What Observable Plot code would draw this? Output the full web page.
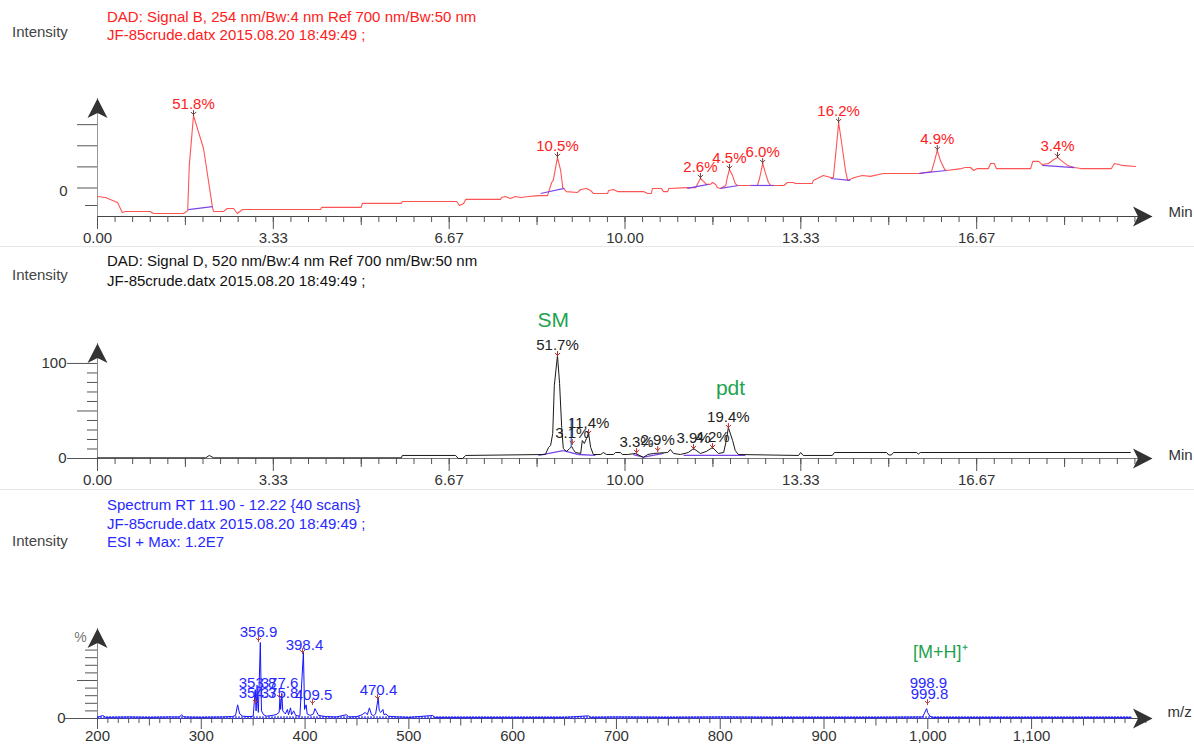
<!DOCTYPE html>
<html>
<head>
<meta charset="utf-8">
<script src="https://cdn.jsdelivr.net/npm/d3@7"></script>
<script src="https://cdn.jsdelivr.net/npm/@observablehq/plot@0.6"></script>
<style>
  html, body { margin: 0; padding: 0; background: #fff; }
  #root { position: relative; width: 1194px; height: 744px; overflow: hidden; background: #fff;
          font-family: 'Liberation Sans', Arial, Helvetica, sans-serif; }
  .hdr { position: absolute; font-size: 15px; white-space: pre; }
  .sep { position: absolute; left: 0; width: 1194px; height: 1px; background: #e8e8e8; }
  .panel { position: absolute; left: 0; }
</style>
</head>
<body>
<div id="root"></div>
<script>
// ---------------- DATA ----------------
// Panel 1: DAD Signal B (254 nm), retention time (min) vs intensity
const topTime = [0.00,0.15,0.38,0.47,0.53,1.00,1.06,1.63,1.71,1.74,1.82,2.01,2.18,2.20,2.39,2.46,2.58,2.65,2.75,4.23,4.25,5.00,5.02,5.76,5.78,6.81,6.86,6.94,6.98,7.64,7.66,7.73,7.83,7.92,8.02,8.17,8.36,8.53,8.61,8.64,8.72,8.78,8.82,8.85,8.89,9.10,9.16,9.27,9.35,9.40,9.67,9.69,9.78,9.86,10.35,10.43,10.50,10.52,10.69,10.73,10.81,10.83,11.18,11.34,11.39,11.43,11.49,11.54,11.62,11.66,11.72,11.75,11.81,11.91,11.94,11.98,12.04,12.09,12.13,12.51,12.55,12.61,12.66,12.72,12.76,13.01,13.08,13.19,13.23,13.55,13.57,13.76,13.90,13.95,14.01,14.05,14.10,14.18,14.22,14.35,14.50,14.65,14.90,15.58,15.81,15.87,15.92,15.98,16.06,16.09,16.38,16.45,16.55,16.61,16.68,16.89,16.93,17.00,17.04,17.69,17.73,17.84,17.91,18.03,18.10,18.20,18.29,18.39,18.52,18.64,19.22,19.28,19.36,19.43,19.68];
const topSignal = [-4.0,-4.5,-6.9,-11.6,-11.1,-11.1,-12.1,-12.1,-10.7,10.7,34.3,18.7,-9.2,-11.1,-11.1,-9.7,-9.7,-12.1,-10.2,-10.2,-9.2,-9.2,-7.3,-7.3,-6.4,-6.4,-8.3,-7.3,-5.4,-5.4,-4.5,-4.0,-5.0,-4.0,-4.5,-4.0,-3.6,-3.6,2.6,3.6,14.5,8.3,0.2,-0.7,-1.7,-2.1,-0.7,-0.2,-1.2,-2.6,-2.6,-1.2,-0.7,-1.7,-1.7,-2.6,-2.6,-0.2,-0.2,-1.7,-1.7,-0.2,0.2,0.2,2.6,4.5,3.1,1.7,1.7,2.6,1.7,0.2,-0.2,1.2,5.0,8.8,5.9,2.1,1.2,1.2,4.5,11.6,7.3,2.6,1.2,1.2,2.6,2.6,2.1,2.1,3.6,5.9,5.0,5.0,20.1,31.0,22.5,8.3,3.6,5.0,5.9,5.5,6.9,6.9,7.8,13.0,17.8,13.0,8.8,8.3,9.2,9.7,9.7,8.3,9.2,9.2,11.6,11.6,9.2,9.2,12.6,12.6,11.1,11.6,13.0,14.5,12.6,10.7,9.7,9.2,9.2,11.6,11.1,10.7,10.2];
const topBaseT1 = [1.72, 8.40, 11.18, 11.81, 12.38, 13.90, 15.58, 17.91];
const topBaseV1 = [-10.2, -2.6, -0.2, -0.2, 1.2, 4.5, 6.9, 10.7];
const topBaseT2 = [2.18, 8.85, 11.58, 12.15, 12.82, 14.27, 16.09, 18.52];
const topBaseV2 = [-8.8, -0.2, 1.7, 1.2, 1.2, 3.6, 8.3, 9.7];
const topPeakTime = [1.82, 8.72, 11.43, 11.98, 12.61, 14.05, 15.92, 18.20];
const topPeakHeight = [34.3, 14.5, 4.5, 8.8, 11.6, 31.0, 17.8, 14.5];
const topPeakLabel = ["51.8%", "10.5%", "2.6%", "4.5%", "6.0%", "16.2%", "4.9%", "3.4%"];
const topYDomain = [-13.5, 42.4];
const topYTicks = [30, 20, 10, 0];
const topYShortTicks = [-8.3];
const topYLabels = ["0"];

// Panel 2: DAD Signal D (520 nm)
const midTime = [0,2.05,2.12,2.20,5.76,5.78,6.79,6.84,6.92,6.98,8.49,8.55,8.59,8.63,8.66,8.72,8.76,8.80,8.83,8.89,8.95,8.99,9.02,9.06,9.16,9.19,9.23,9.27,9.31,9.35,9.40,9.54,9.59,9.65,9.78,9.82,9.91,9.95,10.05,10.20,10.35,10.43,10.54,10.81,10.86,10.92,11.05,11.20,11.30,11.43,11.54,11.66,11.77,11.87,11.92,11.96,12.04,12.09,12.15,13.29,13.33,13.38,13.93,13.97,14.96,15.00,15.05,15.09,15.53,15.56,15.60,19.58];
const midSignal = [0.7,0.7,3.2,0.7,0.7,3.2,3.2,0,0,3.2,4.2,11.6,13.7,26.3,76.8,108.4,78.9,32.6,10.5,7.4,10.5,12.6,9.5,6.3,5.3,18.9,15.8,21.1,26.3,11.6,4.2,4.2,6.3,4.2,4.2,6.3,6.3,4.2,4.2,5.3,1.1,4.2,5.3,6.3,9.5,5.3,4.2,6.3,10.5,5.3,7.4,11.6,5.3,6.3,18.9,32.6,18.9,8.4,4.2,3.2,6.3,3.2,3.2,6.3,6.3,3.7,3.7,6.3,6.3,4.7,6.3,6.3];
const midBaseT1 = [8.36, 8.83, 9.12, 10.16, 10.35, 11.11];
const midBaseV1 = [3.2, 8.4, 4.2, 4.2, 1.4, 3.2];
const midBaseT2 = [8.83, 9.12, 9.44, 10.35, 10.73, 12.28];
const midBaseV2 = [8.4, 4.2, 3.2, 1.4, 5.3, 3.2];
const midPeakTime = [8.72, 9.00, 9.31, 10.22, 10.62, 11.30, 11.66, 11.96];
const midPeakHeight = [108.4, 15.8, 26.3, 6.3, 8.4, 10.5, 11.6, 32.6];
const midPeakLabel = ["51.7%", "3.1%", "11.4%", "3.3%", "2.9%", "3.9%", "4.2%", "19.4%"];
const midDropTime = [8.98];
const midDropLow = [11.6];
const midDropHigh = [42.1];
const midNoteTime = [8.64, 12.0];
const midNoteValue = [145.3, 73.7];
const midNoteText = ["SM", "pdt"];
const midYDomain = [0, 121];
const midYMajor = [0, 100];
const midYMedium = [50];
const midYMinor = [10, 20, 30, 40, 60, 70, 80, 90];

// Shared time axis
const timeDomain = [0, 20];
const timeMajorTicks = [0, 3.333, 6.667, 10, 13.333, 16.667];
const timeMajorLabels = ["0.00", "3.33", "6.67", "10.00", "13.33", "16.67"];

// Panel 3: ESI+ mass spectrum, m/z vs relative intensity (%)
const specMz = [200,205,208,230,250,270,279,281,283,300,320,330,333,335,337,340,345,350,352,352.8,353.8,354.3,355,356.9,358,360,363,368,372,375,375.8,376.5,377.6,378.5,381,383,384,386,387,389,391,395,398.4,399.5,401,402,405,408,409.5,411,413,420,430,440,442,450,455,458,460,462,464,466,468,470.4,471.5,473,475,476,478,480,490,500,523,525,550,600,650,673,675,700,750,800,850,900,950,995,998.9,999.8,1002,1005,1050,1100,1150,1196];
const specPct = [1.5,4,1.5,2,1.5,2,2,5,2,1.5,2,2.5,4,18,6,3,2.5,3,38,10,42,20,8,100,10,5,3,4,5,8,26,12,33,10,6,12,5,14,5,10,4,3,87,12,18,6,4,6,13,9,4,2.5,2,5,2,2.5,5,8,5,14,5,4,6,27,10,8,12,5,6,3,2,1.5,4,1.5,1.5,1.5,1.5,3.5,1.5,2,1.5,2,1.5,1.5,1.5,2,13,8,3,1.5,1.5,1.5,1.5,1.5];
const specNoiseLevel = [1.2];
const specLabelText = ["356.9", "398.4", "353.8", "354.3", "377.6", "375.8", "409.5", "470.4", "998.9", "999.8"];
const specLabelMz = [355.1, 399.4, 354.2, 354.2, 375.4, 375.4, 408.1, 470.7, 1000.6, 1001.6];
const specLabelPct = [113.2, 96.1, 46.1, 32.9, 46.1, 32.9, 30.3, 36.8, 46.1, 31.6];
const specMarkMz = [355.1, 397.5, 352.2, 375.4, 407.1, 469.8, 999.7];
const specMarkPct = [102.6, 86.8, 21.0, 27.6, 19.7, 26.3, 19.7];
const specNoteMz = [1012];
const specNotePct = [86.8];
const specNoteText = ["[M+H]\u207A"];
const mzDomain = [200, 1216.5];
const mzMajorTicks = [200, 300, 400, 500, 600, 700, 800, 900, 1000, 1100];
const mzMajorLabels = ["200", "300", "400", "500", "600", "700", "800", "900", "1,000", "1,100"];
const specYDomain = [0, 118.4];
const specYMajor = [0];
const specYMedium = [50];
const specYMinor = [10, 20, 30, 40, 60, 70, 80, 90];

// Header texts
const topHeader = ["DAD: Signal B, 254 nm/Bw:4 nm Ref 700 nm/Bw:50 nm", "JF-85crude.datx 2015.08.20 18:49:49 ;"];
const midHeader = ["DAD: Signal D, 520 nm/Bw:4 nm Ref 700 nm/Bw:50 nm", "JF-85crude.datx 2015.08.20 18:49:49 ;"];
const specHeader = ["Spectrum RT 11.90 - 12.22 {40 scans}", "JF-85crude.datx 2015.08.20 18:49:49 ;", "ESI + Max: 1.2E7"];
const yTitle = "Intensity";

// ---------------- DRAWING ----------------
const FONT = "'Liberation Sans', Arial, Helvetica, sans-serif";
const RED = "#ff2020", BLUE = "#2828ff", GREEN = "#1fa34f", PURPLE = "#7a45e6";
const AXIS = "#444", TICK = "#555";

const root = document.getElementById("root");
function addDiv(cls, css, html) {
  const d = document.createElement("div");
  d.className = cls;
  Object.assign(d.style, css);
  if (html != null) d.innerHTML = html;
  root.appendChild(d);
  return d;
}
const esc = s => s.replace(/&/g, "&amp;").replace(/</g, "&lt;");

// headers
addDiv("hdr", {left: "107px", top: "8px", lineHeight: "18px", color: RED}, topHeader.map(esc).join("<br>"));
addDiv("hdr", {left: "107px", top: "251px", lineHeight: "20px", color: "#111"}, midHeader.map(esc).join("<br>"));
addDiv("hdr", {left: "107px", top: "496px", lineHeight: "18.5px", color: BLUE}, specHeader.map(esc).join("<br>"));
for (const top of [23, 266, 532]) addDiv("hdr", {left: "12px", top: top + "px", lineHeight: "18px", color: "#444"}, yTitle);
addDiv("sep", {top: "246px"});
addDiv("sep", {top: "489px"});

// custom symbols
const stealth = {
  draw(ctx, size) {
    const r = Math.sqrt(size / Math.PI);
    ctx.moveTo(0, 0);
    ctx.lineTo(r, 1.95 * r);
    ctx.lineTo(0, 1.45 * r);
    ctx.lineTo(-r, 1.95 * r);
    ctx.closePath();
  }
};
const peakMark = {
  draw(ctx, size) {
    const r = Math.sqrt(size / Math.PI);
    ctx.moveTo(-r, -r);
    ctx.lineTo(0, 0);
    ctx.lineTo(r, -r);
    ctx.moveTo(0, 0.6 * r);
    ctx.lineTo(0, -1.7 * r);
  }
};

const zip = (a, b) => a.map((v, i) => ({x: v, y: b[i]}));

function arrows(xDomain, yDomain) {
  return [
    Plot.dot([{x: xDomain[0], y: yDomain[1]}], {x: "x", y: "y", symbol: stealth, r: 10, fill: "#333", stroke: "none"}),
    Plot.dot([{x: xDomain[1], y: yDomain[0]}], {x: "x", y: "y", symbol: stealth, r: 10, rotate: 90, fill: "#333", stroke: "none"})
  ];
}

function timeAxisMarks() {
  const minor = d3.range(1, 60).map(i => i / 3);
  const medium = d3.range(1, 12, 2).map(i => i * 5 / 3);
  return [
    Plot.axisX({ticks: minor, tickSize: 6, fill: "none", stroke: TICK, label: null}),
    Plot.axisX({ticks: medium, tickSize: 9, fill: "none", stroke: TICK, label: null}),
    Plot.axisX({ticks: timeMajorTicks, tickSize: 13, tickPadding: 2.5, stroke: TICK, fill: "#333", fontSize: 15, label: null,
      tickFormat: d => timeMajorLabels[timeMajorTicks.indexOf(d)]})
  ];
}

function makePanel({top, height, mt, mb, xDomain, yDomain, marks}) {
  const svg = Plot.plot({
    width: 1194, height,
    marginLeft: 97, marginRight: 42, marginTop: mt, marginBottom: mb,
    x: {domain: xDomain, label: null},
    y: {domain: yDomain, label: null},
    style: {fontFamily: FONT, fontSize: "15px", background: "transparent", overflow: "visible"},
    marks
  });
  const holder = addDiv("panel", {top: top + "px", width: "1194px", height: height + "px"});
  holder.appendChild(svg);
}

// ---- Panel 1 ----
const topData = zip(topTime, topSignal);
const topBase = topBaseT1.map((t, i) => ({x1: t, y1: topBaseV1[i], x2: topBaseT2[i], y2: topBaseV2[i]}));
const topPeaks = topPeakTime.map((t, i) => ({x: t, y: topPeakHeight[i], label: topPeakLabel[i]}));
makePanel({
  top: 55, height: 192, mt: 43, mb: 31, xDomain: timeDomain, yDomain: topYDomain,
  marks: [
    Plot.ruleX([timeDomain[0]], {stroke: "#999"}),
    Plot.ruleY([topYDomain[0]], {stroke: AXIS, strokeWidth: 1.2}),
    ...timeAxisMarks(),
    Plot.axisY({ticks: topYTicks, tickSize: 20, fill: "none", stroke: TICK, label: null}),
    Plot.axisY({ticks: topYShortTicks, tickSize: 12, fill: "none", stroke: TICK, label: null}),
    Plot.axisY({ticks: [0], tickSize: 0, tickPadding: 30, dy: 3, fill: "#333", fontSize: 15, label: null,
      tickFormat: () => topYLabels[0]}),
    Plot.line(topData, {x: "x", y: "y", stroke: "#ff5454", strokeWidth: 1.1}),
    Plot.link(topBase, {x1: "x1", y1: "y1", x2: "x2", y2: "y2", stroke: PURPLE, strokeWidth: 1.2}),
    Plot.dot(topPeaks, {x: "x", y: "y", symbol: peakMark, r: 2.6, stroke: "#6b3a3a", fill: "none", strokeWidth: 1, dy: -1}),
    Plot.text(topPeaks, {x: "x", y: "y", text: "label", dy: -11, fill: RED, fontSize: 15}),
    ...arrows(timeDomain, topYDomain),
    Plot.text(["Min"], {frameAnchor: "bottom-right", dx: 16, dy: -4, textAnchor: "start", lineAnchor: "middle", fill: "#333", fontSize: 15})
  ]
});

// ---- Panel 2 ----
const midData = zip(midTime, midSignal);
const midBase = midBaseT1.map((t, i) => ({x1: t, y1: midBaseV1[i], x2: midBaseT2[i], y2: midBaseV2[i]}));
const midPeaks = midPeakTime.map((t, i) => ({x: t, y: midPeakHeight[i], label: midPeakLabel[i]}));
const midDrops = midDropTime.map((t, i) => ({x: t, y1: midDropLow[i], y2: midDropHigh[i]}));
const midNotes = midNoteTime.map((t, i) => ({x: t, y: midNoteValue[i], text: midNoteText[i]}));
makePanel({
  top: 296, height: 194, mt: 47, mb: 32, xDomain: timeDomain, yDomain: midYDomain,
  marks: [
    Plot.ruleX([timeDomain[0]], {stroke: "#888"}),
    Plot.ruleY([midYDomain[0]], {stroke: "#777", strokeWidth: 1.2}),
    ...timeAxisMarks(),
    Plot.axisY({ticks: midYMinor, tickSize: 10, fill: "none", stroke: TICK, label: null}),
    Plot.axisY({ticks: midYMedium, tickSize: 20, fill: "none", stroke: TICK, label: null}),
    Plot.axisY({ticks: midYMajor, tickSize: 30, tickPadding: 1, stroke: TICK, fill: "#333", fontSize: 15, label: null,
      tickFormat: d => String(d)}),
    Plot.link(midBase, {x1: "x1", y1: "y1", x2: "x2", y2: "y2", stroke: PURPLE, strokeWidth: 1.3}),
    Plot.line(midData, {x: "x", y: "y", stroke: "#1a1a1a", strokeWidth: 1}),
    Plot.ruleX(midDrops, {x: "x", y1: "y1", y2: "y2", stroke: "#2f63c8", strokeWidth: 1.2}),
    Plot.dot(midPeaks, {x: "x", y: "y", symbol: peakMark, r: 2.6, stroke: "#b02a2a", fill: "none", strokeWidth: 1}),
    Plot.text(midPeaks, {x: "x", y: "y", text: "label", dy: -10, fill: "#222", fontSize: 15}),
    Plot.text(midNotes, {x: "x", y: "y", text: "text", fill: GREEN, fontSize: 21}),
    ...arrows(timeDomain, midYDomain),
    Plot.text(["Min"], {frameAnchor: "bottom-right", dx: 16, dy: -3, textAnchor: "start", lineAnchor: "middle", fill: "#333", fontSize: 15})
  ]
});

// ---- Panel 3 ----
const specData = zip(specMz, specPct);
const specLabels = specLabelText.map((s, i) => ({x: specLabelMz[i], y: specLabelPct[i], text: s}));
const specMarks = specMarkMz.map((m, i) => ({x: m, y: specMarkPct[i]}));
const specNotes = specNoteMz.map((m, i) => ({x: m, y: specNotePct[i], text: specNoteText[i]}));
const mzMinor = d3.range(210, 1211, 10).filter(v => v % 50 !== 0);
const mzMedium = d3.range(250, 1201, 100);
makePanel({
  top: 556, height: 188, mt: 72, mb: 26, xDomain: mzDomain, yDomain: specYDomain,
  marks: [
    Plot.ruleX([mzDomain[0]], {stroke: "#888"}),
    Plot.ruleY([specYDomain[0]], {stroke: AXIS, strokeWidth: 1.2}),
    Plot.axisX({ticks: mzMinor, tickSize: 5, fill: "none", stroke: TICK, label: null}),
    Plot.axisX({ticks: mzMedium, tickSize: 7.5, fill: "none", stroke: TICK, label: null}),
    Plot.axisX({ticks: mzMajorTicks, tickSize: 11, tickPadding: 0.5, stroke: TICK, fill: "#333", fontSize: 15, label: null,
      tickFormat: d => mzMajorLabels[mzMajorTicks.indexOf(d)]}),
    Plot.axisY({ticks: specYMinor, tickSize: 12, fill: "none", stroke: TICK, label: null}),
    Plot.axisY({ticks: specYMedium, tickSize: 20, fill: "none", stroke: TICK, label: null}),
    Plot.axisY({ticks: specYMajor, tickSize: 32, tickPadding: 0, stroke: TICK, fill: "#333", fontSize: 15, label: null,
      tickFormat: d => String(d)}),
    Plot.ruleY(specNoiseLevel, {x1: specMz[0], x2: specMz[specMz.length - 1], stroke: "#3a3aff", strokeWidth: 2.6, strokeDasharray: "2 1", strokeOpacity: 0.75}),
    Plot.line(specData, {x: "x", y: "y", stroke: "#1414ff", strokeWidth: 1}),
    Plot.dot(specMarks, {x: "x", y: "y", symbol: peakMark, r: 2.6, stroke: "#b04040", fill: "none", strokeWidth: 1}),
    Plot.text(specLabels, {x: "x", y: "y", text: "text", fill: BLUE, fontSize: 15}),
    Plot.text(specNotes, {x: "x", y: "y", text: "text", fill: GREEN, fontSize: 18}),
    ...arrows(mzDomain, specYDomain),
    Plot.text(["%"], {frameAnchor: "top-left", dx: -17, dy: 9, textAnchor: "middle", lineAnchor: "middle", fill: "#777", fontSize: 14}),
    Plot.text(["m/z"], {frameAnchor: "bottom-right", dx: 15, dy: -6, textAnchor: "start", lineAnchor: "middle", fill: "#333", fontSize: 15})
  ]
});
</script>
</body>
</html>
